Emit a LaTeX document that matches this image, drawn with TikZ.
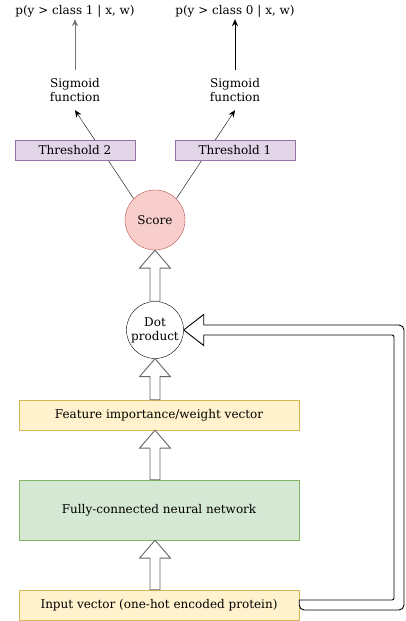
\documentclass[tikz,border=0pt]{standalone}
\usepackage{fontspec}
\setmainfont{DejaVu Serif}
\usetikzlibrary{calc,backgrounds,arrows.meta}
\definecolor{threshfill}{HTML}{E1D5E7}
\definecolor{threshline}{HTML}{9673A6}
\definecolor{scorefill}{HTML}{F8CECC}
\definecolor{scoreline}{HTML}{B85450}
\definecolor{yellowfill}{HTML}{FFF2CC}
\definecolor{yellowline}{HTML}{D6B656}
\definecolor{greenfill}{HTML}{D5E8D4}
\definecolor{greenline}{HTML}{82B366}
\def\blockarrow(#1)(#2){\draw[fatarrow] let \p1=(#1), \p2=(#2) in (\x1-5pt,\y1) -- (\x1-5pt,\y2-18pt) -- (\x1-15.5pt,\y2-18pt) -- (\x1,\y2) -- (\x1+15.5pt,\y2-18pt) -- (\x1+5pt,\y2-18pt) -- (\x1+5pt,\y1) -- cycle;}

\begin{document}
\begin{tikzpicture}[x=1pt, y=1pt,
		font=\fontsize{12}{14}\selectfont,
		wide/.style={draw, minimum width=280, inner sep=0},
		thresh/.style={draw=threshline, fill=threshfill, minimum width=120, minimum height=20, inner sep=0},
		fatarrow/.style={draw=black!60, fill=white, line width=0.9pt, line join=miter},
		thin arrow/.style={-{Stealth[length=7pt, width=6pt]}}]
			%%%%% START %%%%%
			
			\useasboundingbox (0, 0) rectangle (405, 621);
			
			\node[wide, draw=yellowline, fill=yellowfill, minimum height=30] (input) at (159, 16) {Input vector (one-hot encoded protein)};
			\node[wide, draw=greenline, fill=greenfill, minimum height=60] (fcnn) at (159, 111) {Fully-connected neural network};
			\node[wide, draw=yellowline, fill=yellowfill, minimum height=30] (feat) at (159, 206) {Feature importance/weight vector};
			
			\node[circle, draw, fill=white, minimum size=57, inner sep=0, align=center] (dot) at (155, 291) {Dot\\product};
			\node[circle, draw=scoreline, fill=scorefill, minimum size=60, inner sep=0] (score) at (155, 401) {Score};
			
			\node[thresh] (th2) at (75, 471) {Threshold 2};
			\node[thresh] (th1) at (235, 471) {Threshold 1};
			
			\node[align=center, minimum height=40, inner sep=0] (sig2) at (75, 531) {Sigmoid\\function};
			\node[align=center, minimum height=40, inner sep=0] (sig1) at (235, 531) {Sigmoid\\function};
			
			\node[inner sep=2pt] (out1) at (75, 610) {p(y > class 1 | x, w)};
			\node[inner sep=2pt] (out0) at (235, 610) {p(y > class 0 | x, w)};
			
			\blockarrow(input.north -| dot.center)(fcnn.south -| dot.center);
			\blockarrow(fcnn.north -| dot.center)(feat.south -| dot.center);
			\blockarrow(feat.north -| dot.center)(dot.south);
			\blockarrow(dot.north)(score.south);
			
			% loop back from the input vector to the dot product
			\draw[line width=0.9pt, fill=white] let \p1=(input.east), \p2=(dot.east) in
				(\x1, \y1+5pt) [rounded corners=2pt] -- (394, \y1+5pt) -- (394, \y2-5pt) [sharp corners] -- (\x2+20pt, \y2-5pt) -- (\x2+20pt, \y2-15.5pt) -- (\p2) -- (\x2+20pt, \y2+15.5pt) -- (\x2+20pt, \y2+5pt)
				[rounded corners=5pt] -- (404, \y2+5pt) -- (404, \y1-5pt) -- (\x1, \y1-5pt) [sharp corners] -- cycle;
			
			\begin{pgfonlayer}{background}
				\draw[thin arrow] (score.135) -- (sig2.south);
				\draw[thin arrow] (score.45) -- (sig1.south);
			\end{pgfonlayer}
			
			\draw[thin arrow, black!55, line width=0.9pt] (sig2.north) -- (out1.south);
			\draw[thin arrow] (sig1.north) -- (out0.south);
			
			%%%%% END %%%%%
\end{tikzpicture}
\end{document}
